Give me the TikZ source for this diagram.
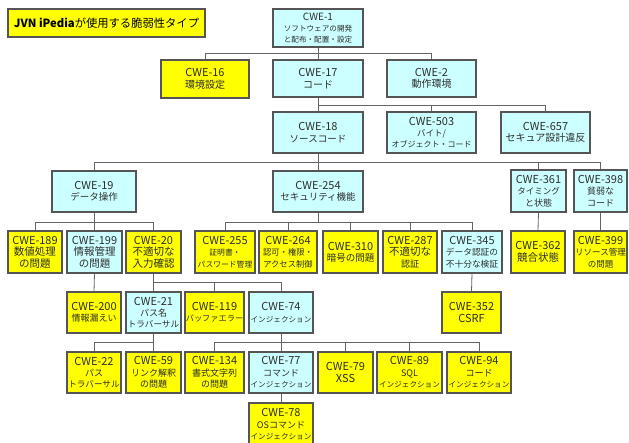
\documentclass[tikz,border=0pt]{standalone}
\usepackage{fontspec}
\setmainfont{Noto Sans CJK JP}
\definecolor{cy}{RGB}{204,255,255}
\definecolor{yl}{RGB}{255,255,0}
\definecolor{bd}{RGB}{85,85,85}
\definecolor{ln}{RGB}{100,100,100}
\definecolor{tx}{RGB}{45,45,45}
\newcommand\sz[1]{\fontsize{#1}{11.4}\selectfont}
\newcommand\bx[7]{\node[box,fill=#6,minimum width={(#4-#2)*1pt},minimum height={(#5-#3)*1pt}] (#1) at ({(#2+#4)/2},{(#3+#5)/2}) {#7};}
\tikzset{
  box/.style={draw=bd,line width=1.1pt,inner sep=0pt,align=center,text=tx,font=\sz{9}},
  conn/.style={draw=ln,line width=0.8pt},
}
\begin{document}
\begin{tikzpicture}[x=1pt,y=-1pt]
\fill[white] (0,0) rectangle (629,443);
\useasboundingbox (0,0) rectangle (629,443);
% title
\bx{title}{8}{9}{205}{37}{yl}{\textcolor{black}{\sz{11.3}\textbf{JVN iPedia}が使用する脆弱性タイプ}}
% level 1-2
\bx{c1}{273}{9}{363}{47}{cy}{\sz{10}CWE-1\\\sz{7.6}ソフトウェアの開発\\\sz{7.6}と配布・配置・設定}
\bx{c16}{161}{60}{249}{98}{yl}{\sz{11}CWE-16\\\sz{10}環境設定}
\bx{c17}{273}{60}{363}{97}{cy}{\sz{11}CWE-17\\\sz{10}コード}
\bx{c2}{387}{60}{476}{97}{cy}{\sz{11}CWE-2\\\sz{10}動作環境}
% level 3
\bx{c18}{273}{112}{363}{153}{cy}{\sz{11}CWE-18\\\sz{9.5}ソースコード}
\bx{c503}{387}{112}{476}{153}{cy}{\sz{11}CWE-503\\\sz{8.5}バイト/\\\sz{8}オブジェクト・コード}
\bx{c657}{501}{112}{590}{153}{cy}{\sz{11}CWE-657\\\sz{10}セキュア設計違反}
% level 4
\bx{c19}{52}{171}{136}{212}{cy}{\sz{11}CWE-19\\\sz{9.5}データ操作}
\bx{c254}{273}{171}{363}{212}{cy}{\sz{11}CWE-254\\\sz{9.5}セキュリティ機能}
\bx{c361}{511}{170}{566}{212}{cy}{\sz{11}CWE-361\\\sz{8.5}タイミング\\\sz{9}と状態}
\bx{c398}{574}{170}{627}{212}{cy}{\sz{11}CWE-398\\\sz{9}貧弱な\\\sz{9}コード}
% level 5
\bx{c189}{8}{231}{62}{273}{yl}{\sz{11}CWE-189\\\sz{10.5}数値処理\\\sz{10.5}の問題}
\bx{c199}{67}{231}{122}{273}{cy}{\sz{11}CWE-199\\\sz{10.5}情報管理\\\sz{10.5}の問題}
\bx{c20}{126}{231}{181}{273}{yl}{\sz{11}CWE-20\\\sz{10.5}不適切な\\\sz{10.5}入力確認}
\bx{c255}{195}{231}{255}{273}{yl}{\sz{11}CWE-255\\\sz{7.8}証明書・\\\sz{7.8}パスワード管理}
\bx{c264}{259}{231}{317}{273}{yl}{\sz{11}CWE-264\\\sz{8.3}認可・権限・\\\sz{8.3}アクセス制御}
\bx{c310}{323}{231}{378}{273}{yl}{\sz{11}CWE-310\\\sz{9.5}暗号の問題}
\bx{c287}{383}{231}{437}{273}{yl}{\sz{11}CWE-287\\\sz{10.5}不適切な\\\sz{9}認証}
\bx{c345}{442}{231}{502}{273}{cy}{\sz{11}CWE-345\\\sz{8.7}データ認証の\\\sz{8.7}不十分な検証}
\bx{c362}{511}{231}{565}{273}{yl}{\sz{11}CWE-362\\\sz{10.5}競合状態}
\bx{c399}{574}{231}{627}{273}{yl}{\sz{11}CWE-399\\\sz{8.5}リソース管理\\\sz{8.5}の問題}
% level 6
\bx{c200}{67}{292}{121}{333}{yl}{\sz{11}CWE-200\\\sz{9}情報漏えい}
\bx{c21}{126}{292}{181}{333}{cy}{\sz{11}CWE-21\\\sz{9}パス名\\\sz{8.6}トラバーサル}
\bx{c119}{185}{292}{244}{333}{yl}{\sz{11}CWE-119\\\sz{8.2}バッファエラー}
\bx{c74}{249}{292}{313}{333}{cy}{\sz{11}CWE-74\\\sz{7.6}インジェクション}
\bx{c352}{442}{292}{501}{333}{yl}{\sz{11}CWE-352\\\sz{11}CSRF}
% level 7
\bx{c22}{67}{352}{121}{393}{yl}{\sz{11}CWE-22\\\sz{9}パス\\\sz{8.6}トラバーサル}
\bx{c59}{126}{352}{181}{393}{yl}{\sz{11}CWE-59\\\sz{9}リンク解釈\\\sz{9}の問題}
\bx{c134}{185}{352}{244}{393}{yl}{\sz{11}CWE-134\\\sz{9}書式文字列\\\sz{9}の問題}
\bx{c77}{249}{352}{313}{393}{cy}{\sz{11}CWE-77\\\sz{9}コマンド\\\sz{7.6}インジェクション}
\bx{c79}{318}{352}{373}{393}{yl}{\sz{11}CWE-79\\\sz{11}XSS}
\bx{c89}{377}{352}{442}{393}{yl}{\sz{11}CWE-89\\\sz{9}SQL\\\sz{7.6}インジェクション}
\bx{c94}{447}{352}{511}{393}{yl}{\sz{11}CWE-94\\\sz{9}コード\\\sz{7.6}インジェクション}
% level 8
\bx{c78}{249}{403}{313}{446}{yl}{\sz{11}CWE-78\\\sz{9}OSコマンド\\\sz{7.6}インジェクション}
% connectors
\draw[conn] (c1.south) -- ++(0,6) coordinate (b1);
\foreach \c in {c16,c17,c2} \draw[conn] (b1) -| (\c.north);
\draw[conn] (c17.south) -- ++(0,8) coordinate (b17);
\foreach \c in {c18,c503,c657} \draw[conn] (b17) -| (\c.north);
\draw[conn] (c18.south) -- ++(0,9) coordinate (b18);
\foreach \c in {c19,c254,c361,c398} \draw[conn] (b18) -| (\c.north);
\draw[conn] (c19.south) -- ++(0,10) coordinate (b19);
\foreach \c in {c189,c199,c20} \draw[conn] (b19) -| (\c.north);
\draw[conn] (c254.south) -- ++(0,10) coordinate (b254);
\foreach \c in {c255,c264,c310,c287,c345} \draw[conn] (b254) -| (\c.north);
\draw[conn] (c361.south) -- (c362.north);
\draw[conn] (c398.south) -- (c399.north);
\draw[conn] (c199.south) -- (c200.north);
\draw[conn] (c345.south) -- (c352.north);
\draw[conn] (c20.south) -- ++(0,9) coordinate (b20);
\foreach \c in {c21,c119,c74} \draw[conn] (b20) -| (\c.north);
\draw[conn] (c21.south) -- ++(0,9) coordinate (b21);
\foreach \c in {c22,c59} \draw[conn] (b21) -| (\c.north);
\draw[conn] (c74.south) -- ++(0,9) coordinate (b74);
\foreach \c in {c134,c77,c79,c89,c94} \draw[conn] (b74) -| (\c.north);
\draw[conn] (c77.south) -- (c78.north);
\end{tikzpicture}
\end{document}
